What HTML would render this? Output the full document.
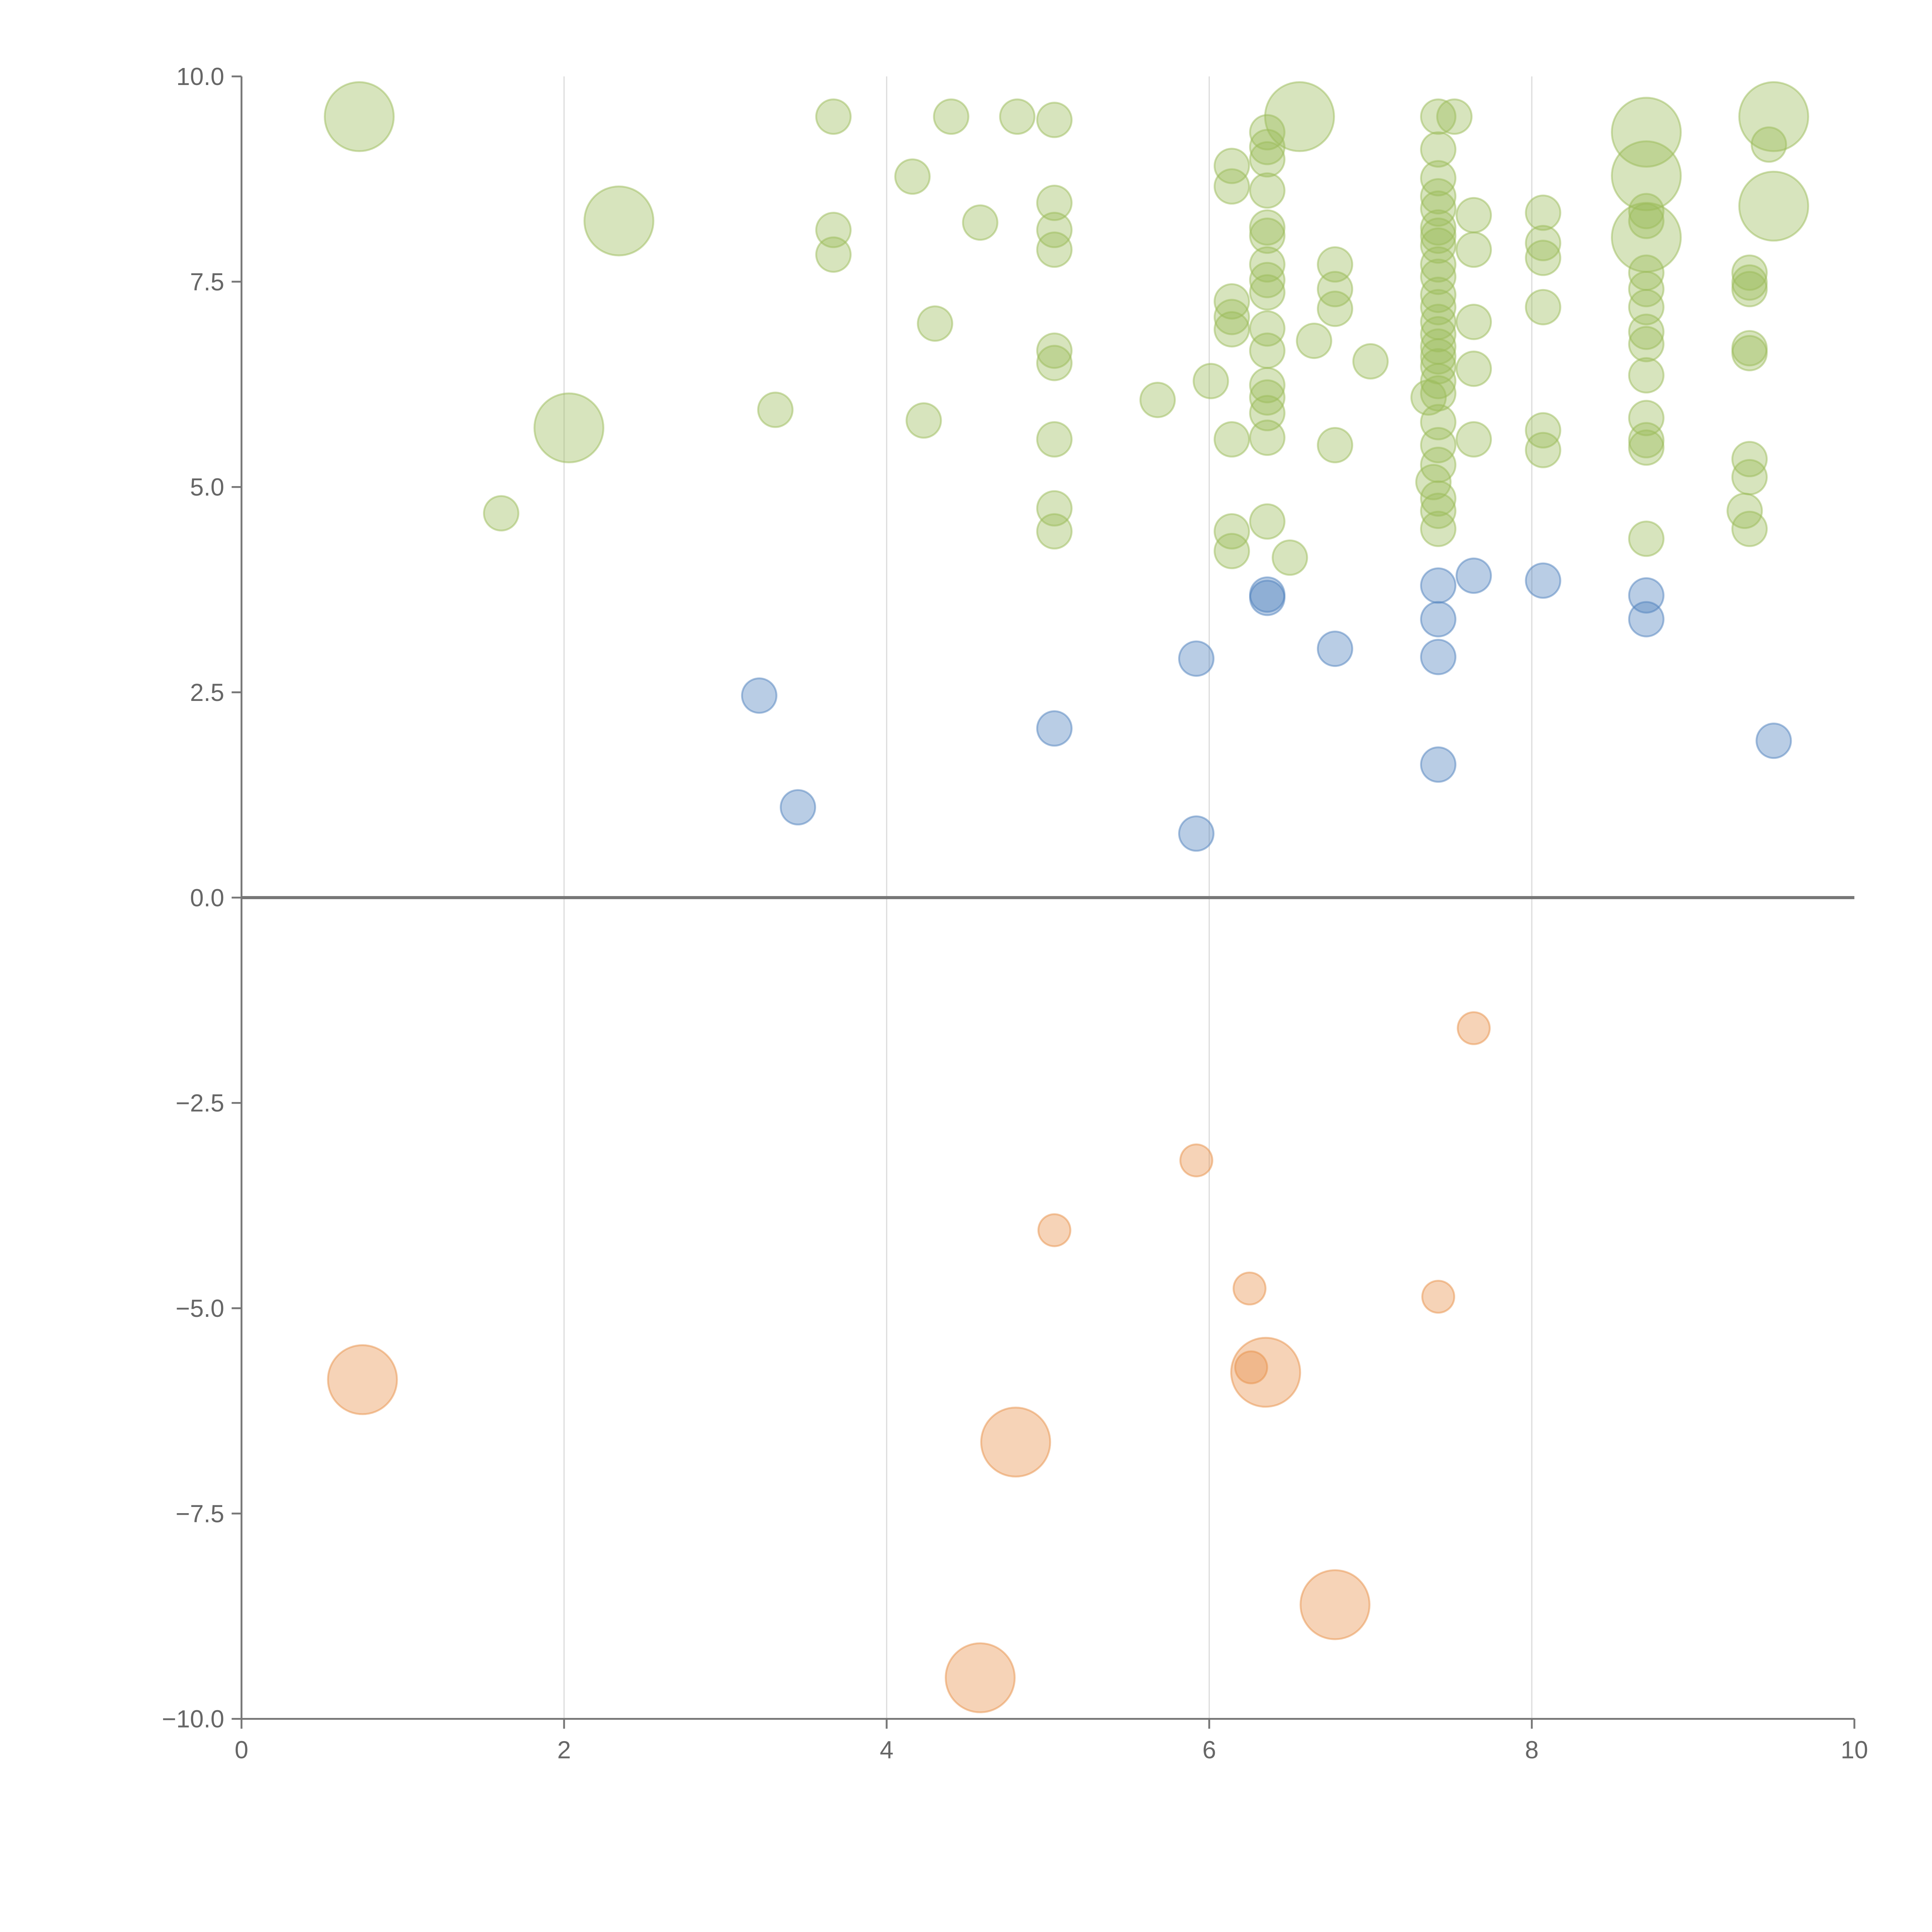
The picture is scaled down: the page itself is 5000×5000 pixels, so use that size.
<!DOCTYPE html>
<html><head><meta charset="utf-8">
<style>html,body{margin:0;padding:0;background:#fff}svg{display:block}</style>
</head><body>
<svg id="chart" xmlns="http://www.w3.org/2000/svg" width="5000" height="5000" viewBox="0 0 1568 1568" font-family="Liberation Sans, sans-serif">
<rect width="1568" height="1568" fill="#fff"/>
<g id="grid"></g>
<g id="marks"></g>
<g id="axes"></g>
</svg>
<script>
const xTicks=[0,2,4,6,8,10];
const yTicks=[10,7.5,5,2.5,0,-2.5,-5,-7.5,-10];
const yTickLabels=["10.0","7.5","5.0","2.5","0.0","\u22122.5","\u22125.0","\u22127.5","\u221210.0"];
const greenX=[3.67,4.40,4.81,5.04,4.16,3.67,3.67,4.58,5.04,5.04,5.04,4.30,5.04,5.04,3.31,4.23,5.04,5.68,6.01,1.61,5.04,5.04,6.14,6.14,6.14,6.14,6.14,6.14,6.14,6.14,6.36,6.36,6.36,6.36,6.36,6.36,6.36,6.36,6.36,6.36,6.36,6.36,6.36,6.36,6.36,6.36,6.50,6.65,6.78,6.78,6.78,6.78,7.00,7.42,7.42,7.42,7.42,7.42,7.42,7.42,7.42,7.42,7.42,7.42,7.42,7.42,7.42,7.42,7.42,7.42,7.42,7.42,7.36,7.42,7.42,7.42,7.39,7.42,7.42,7.42,7.52,7.64,7.64,7.64,7.64,7.64,8.07,8.07,8.07,8.07,8.07,8.07,8.71,8.71,8.71,8.71,8.71,8.71,8.71,8.71,8.71,8.71,8.71,8.71,9.35,9.35,9.35,9.35,9.35,9.35,9.35,9.32,9.35,9.47];
const greenY=[9.51,9.51,9.51,9.47,8.78,8.13,7.83,8.22,8.46,8.13,7.89,6.99,6.66,6.51,5.94,5.81,5.58,6.06,6.29,4.68,4.74,4.46,8.91,8.66,7.26,7.07,6.92,5.58,4.46,4.22,9.32,9.14,8.99,8.61,8.16,8.06,7.71,7.52,7.37,6.93,6.66,6.24,6.09,5.90,5.60,4.58,4.14,6.78,7.71,7.41,7.17,5.51,6.53,9.51,9.11,8.76,8.54,8.39,8.16,8.06,7.94,7.71,7.56,7.34,7.19,7.01,6.86,6.71,6.59,6.47,6.29,6.14,6.09,5.79,5.51,5.27,5.06,4.86,4.71,4.49,9.51,8.31,7.89,7.01,6.44,5.58,8.34,7.97,7.79,7.19,5.69,5.45,8.36,8.24,7.61,7.41,7.19,6.89,6.74,6.36,5.84,5.57,5.48,4.37,7.61,7.49,7.41,6.69,6.63,5.34,5.12,4.71,4.49,9.17];
const greenBigX=[0.73,2.34,2.03,6.56,8.71,8.71,8.71,9.50,9.50];
const greenBigY=[9.51,8.24,5.72,9.51,9.32,8.79,8.04,9.51,8.42];
const blueX=[3.21,3.45,5.04,5.92,5.92,6.36,6.36,6.78,7.42,7.42,7.42,7.42,7.64,8.07,8.71,8.71,9.50];
const blueY=[2.46,1.10,2.06,2.91,0.78,3.69,3.65,3.03,3.80,3.39,2.93,1.62,3.92,3.86,3.68,3.39,1.91];
const orangeX=[7.64,5.92,5.04,6.25,7.42,6.26];
const orangeY=[-1.59,-3.20,-4.05,-4.76,-4.86,-5.72];
const orangeBigX=[0.75,4.80,6.35,6.78,4.58];
const orangeBigY=[-5.87,-6.63,-5.78,-8.61,-9.50];

const L=196,R=1505,T=62,B=1395;
const sx=v=>L+(v-0)/(10-0)*(R-L);
const sy=v=>B-(v+10)/20*(B-T);
const NS='http://www.w3.org/2000/svg';
function mk(tag,attrs,parent){const e=document.createElementNS(NS,tag);for(const k in attrs)e.setAttribute(k,attrs[k]);parent.appendChild(e);return e;}
const grid=document.getElementById('grid'),marks=document.getElementById('marks'),axes=document.getElementById('axes');
xTicks.forEach(t=>{if(t>0&&t<10){const l=mk('line',{x1:sx(t),x2:sx(t),y1:T,y2:B,stroke:'#dddddd','stroke-width':1},grid);

}});
function series(xs,ys,r,fill,name){xs.forEach((x,i)=>{const c=mk('circle',{cx:sx(x),cy:sy(ys[i]),r:r,fill:fill,'fill-opacity':0.4,stroke:fill,'stroke-opacity':0.5,'stroke-width':1.5},marks);

});}
series(greenBigX,greenBigY,28,'#9bbb59','green-bubble-large');
series(greenX,greenY,14,'#9bbb59','green-bubble');
series(blueX,blueY,14,'#4f81bd','blue-bubble');
series(orangeBigX,orangeBigY,28,'#e8914a','orange-bubble-large');
series(orangeX,orangeY,13,'#e8914a','orange-bubble');
const z=mk('line',{x1:L,x2:R,y1:sy(0),y2:sy(0),stroke:'#777','stroke-width':2.5},axes);


const ya=mk('line',{x1:L,x2:L,y1:T,y2:B,stroke:'#777','stroke-width':1.5},axes);


const xa=mk('line',{x1:L,x2:R,y1:B,y2:B,stroke:'#777','stroke-width':1.5},axes);


yTicks.forEach((t,i)=>{mk('line',{x1:L-8,x2:L,y1:sy(t),y2:sy(t),stroke:'#777','stroke-width':1.5},axes);
const tx=mk('text',{x:L-14,y:sy(t)+7,'text-anchor':'end','font-size':20,fill:'#666'},axes);tx.textContent=yTickLabels[i];

});
xTicks.forEach(t=>{mk('line',{x1:sx(t),x2:sx(t),y1:B,y2:B+8,stroke:'#777','stroke-width':1.5},axes);
const tx=mk('text',{x:sx(t),y:B+32,'text-anchor':'middle','font-size':20,fill:'#666'},axes);tx.textContent=String(t);

});
</script>
</body></html>
